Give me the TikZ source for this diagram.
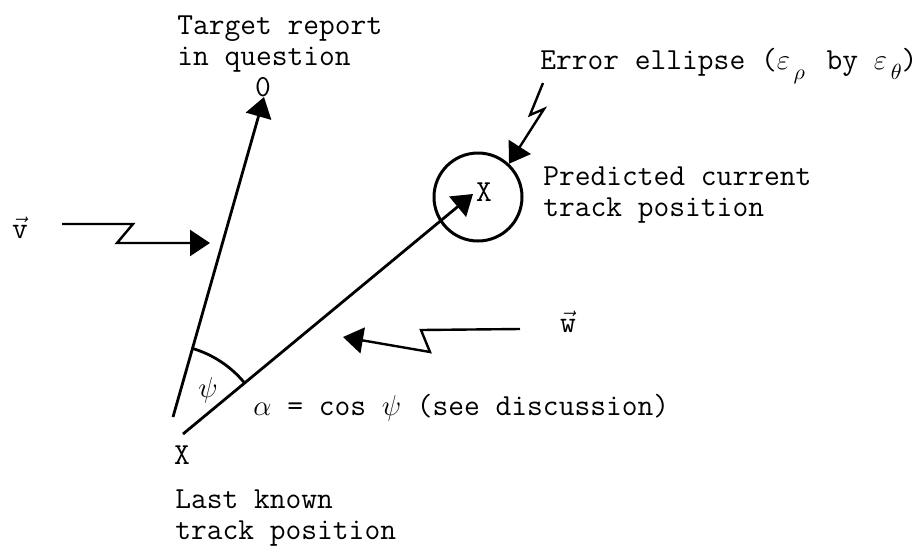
\documentclass[tikz,border=0pt]{standalone}
\usepackage{fontspec}
\usetikzlibrary{arrows.meta,calc}

\begin{document}
\begin{tikzpicture}[x=0.5pt, y=-0.5pt, font=\ttfamily\fontsize{15.3}{15.5}\selectfont,
  >={Triangle[length=10pt,width=13pt]},
  vec/.style={line width=1.4pt},
  bolt/.style={line width=1.2pt, line join=miter},
  lbl/.style={inner sep=0pt, align=left, anchor=west}]
\useasboundingbox (0,0) rectangle (923,548);
% the two vectors from the last known position
\coordinate (vtx) at (162,451);
\coordinate (vs) at (173,417);
\coordinate (ws) at (183,434);
\node[inner sep=1pt] (obs) at (263,87) {0};
\node[circle, draw, line width=1.5pt, minimum size=44pt, inner sep=0pt] (ell) at (478,197) {};
\node (xp) at (484,192) {X};
\node (x0) at (182,455) {X};
\coordinate (otip) at (264,97);
\coordinate (ptip) at (473,194);
\draw[->, vec] (vs) -- (otip);
\draw[->, vec] (ws) -- (ptip);
% angle psi
\draw[vec] (vtx) ++(-74:107) arc[start angle=-74, end angle=-39.5, radius=107];
\node (psi) at (208,390) {$\psi$};
% lightning pointers
\coordinate (vbeg) at (62,224);
\coordinate (vend) at (210,243);
\draw[->, bolt] (vbeg) -- ++(71,0) -- ++(-16,19) -- (vend);
\coordinate (ebeg) at (543,83);
\draw[->, bolt] (ebeg) -- ++(-13,32) -- ++(14,-6) -- (ell.47);
\coordinate (wbeg) at (520,329);
\coordinate (wend) at (343,337);
\draw[->, bolt] (wbeg) -- ++(-99,1) -- ++(9,22) -- (wend);
% labels
\node (vlbl) at (20,228) {$\vec{\texttt{v}}$};
\node (wlbl) at (568,322) {$\vec{\texttt{w}}$};
\node[lbl] (tgt) at (177,44) {Target report\\in question};
\node[lbl, anchor=base west] (err) at (540,69) {Error ellipse ($\varepsilon$\raisebox{-5pt}{$\scriptstyle\,\rho$}\hspace{3pt} by $\varepsilon$\raisebox{-5pt}{$\scriptstyle\,\theta$})};
\node[lbl] (pred) at (543,195) {Predicted current\\track position};
\node[lbl] (alpha) at (253,408) {$\alpha$ = cos $\psi$ (see discussion)};
\node[lbl] (last) at (175,518) {Last known\\track position};
\end{tikzpicture}
\end{document}
